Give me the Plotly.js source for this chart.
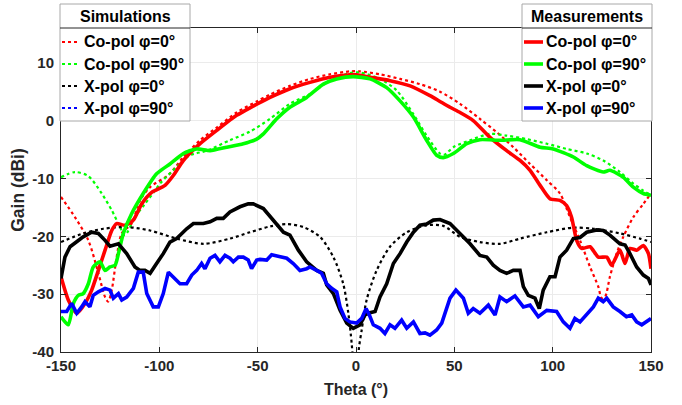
<!DOCTYPE html>
<html><head><meta charset="utf-8">
<script src="https://cdn.plot.ly/plotly-3.0.1.min.js"></script>
<style>html,body{margin:0;padding:0;background:#fff}</style>
</head><body><div id="chart" style="width:682px;height:405px"></div>
<script>
// ---------- data ----------
const thetaSimCo0 = [-150,-142.9,-136.1,-131,-127.6,-126,-124.2,-121.7,-119.1,-114.1,-109.8,-104.7,-95,-87.8,-79.3,-70.8,-60.7,-50.5,-43.7,-33.6,-23.4,-13.2,-3.1,2,12.2,22.4,32.5,42.7,52.9,63,71.5,80,88.5,97,103.7,108.8,113.9,119,123.2,124.9,126.6,129.1,132.5,135.9,141,146.1,150];
const gainSimCo0  = [-13.2,-16.7,-20.7,-26.4,-30.5,-31.3,-29.3,-23.6,-19.5,-17.8,-13.8,-11.5,-9.3,-6.3,-3.4,-1.2,1.4,3.3,4.5,6.0,7.2,8.0,8.5,8.5,8.0,7.2,6.3,5.0,2.9,0.3,-2.0,-4.6,-7.5,-10.3,-12.6,-16.7,-20.7,-25.3,-28.7,-30.7,-30.5,-27,-23,-20.1,-16.7,-14.4,-12.6];

const thetaSimCo90 = [-150,-142.9,-136.1,-129.3,-124.2,-120,-117.5,-112.4,-107.3,-102.2,-99.7,-91.2,-84.4,-75.9,-64.1,-53.9,-43.7,-33.6,-23.4,-13.2,-3.1,2,12.2,20.7,29.2,35.9,42.7,45,49.5,58,68.1,76.6,86.8,97,107.1,117.3,125.7,134.2,141,146.1,150];
const gainSimCo90  = [-9.8,-8.9,-9.6,-12.6,-15.5,-18.4,-19.8,-16.7,-14.4,-12.1,-10.9,-8.0,-6.0,-5.2,-3.4,-1.9,0.3,2.9,4.6,6.9,8.2,8.3,7.2,5.2,1.1,-2.6,-5.7,-5.9,-4.6,-3.4,-2.3,-2.6,-3.2,-4.0,-4.9,-5.7,-6.9,-8.9,-10.9,-12.1,-12.9];

const thetaSimX0 = [-150,-138.7,-128.5,-116.6,-104.7,-91.2,-77.6,-64.1,-53.9,-43.7,-35.2,-26.8,-18.3,-11.5,-6.5,-3.9,-2.2,-1.5,0,1.0,1.5,2.9,5.4,10.5,17.3,25.8,35.9,44.4,52.9,63,73.2,83.4,97,110.5,120.7,134.2,144.4,150];
const gainSimX0  = [-21,-19.5,-18.7,-18.4,-19.0,-20.4,-21.3,-20.4,-19.3,-18.3,-17.9,-18.4,-20.1,-23.6,-28.2,-33.3,-38.5,-42,-60,-42,-39.3,-36.2,-31,-25.9,-21.8,-19.3,-18.1,-18.2,-20.1,-21,-21.3,-20.4,-19.3,-18.5,-18.7,-19.5,-20.4,-21];

const thetaMeasCo0 = [-150,-146.3,-142,-137.8,-134.4,-131,-127.6,-124.2,-121.7,-117.5,-113.2,-109,-103.9,-97.1,-92.9,-87.8,-79.3,-70.8,-60.7,-53.9,-43.7,-33.6,-23.4,-13.2,-3.1,0.3,7.1,17.3,27.5,37.6,42.7,47.8,52.9,59.6,68.1,76.6,83.4,88.5,93.6,98.6,103.7,107.1,109.6,112.2,114.7,119,123.2,127.5,130,134.2,136.8,139.3,142.7,146.1,148.7,150];
const gainMeasCo0  = [-27,-31,-33.3,-31.6,-29.3,-25.9,-22.4,-19,-17.8,-18.1,-17.2,-14.4,-12.4,-11.2,-9.5,-6.9,-4.0,-1.7,0.9,2.2,4.0,5.5,6.6,7.5,7.9,7.9,7.5,6.9,6.0,4.3,3.3,2.3,1.4,0,-2.9,-5.2,-6.9,-8.6,-11.2,-13.5,-13.8,-14.7,-16.7,-20.7,-22.1,-21.8,-23.6,-23.6,-25,-22.4,-24.7,-22.1,-22.4,-21.6,-23,-25.6];

const thetaMeasCo90 = [-150,-146.3,-143.7,-141.2,-138.7,-136.1,-133.6,-130.2,-127.6,-125.1,-122.5,-120.8,-118.3,-114.1,-108.2,-101.4,-94.6,-87.8,-81,-74.2,-65.7,-57.3,-50.5,-47.1,-43.7,-40.3,-33.6,-25.1,-16.6,-9.8,-1.4,7.1,15.6,22.4,29.2,35.9,41,44.4,49.5,56.3,63,73.2,83.4,93.6,100.3,110.5,117.3,125.7,129.1,135.9,141,146.1,150];
const gainMeasCo90  = [-33.9,-35.3,-31.6,-30.2,-29.9,-28.2,-25.3,-24.4,-25.9,-25.3,-25,-23,-19.5,-16.1,-12.6,-9.2,-7.5,-5.7,-4.9,-5.2,-4.6,-4.0,-3.2,-2.3,-1.0,0.3,2.3,4.0,6.3,7.2,7.6,7.2,5.7,3.4,0.6,-3.4,-6.0,-6.4,-5.7,-4.0,-3.3,-3.4,-3.3,-4.6,-4.9,-6.3,-7.8,-8.9,-8.6,-9.8,-11.5,-12.6,-12.9];

const thetaMeasX0 = [-150,-148,-145.4,-142,-138.7,-134.4,-131,-127.6,-125.1,-120.8,-116.6,-112.4,-109.8,-107.3,-104.7,-101.4,-98,-94.6,-91.2,-86.1,-82.7,-77.6,-74.2,-70.8,-67.5,-64.1,-59,-54.8,-52.2,-47.1,-42,-36.9,-33.6,-29.3,-25.1,-20,-16.6,-14.9,-11.5,-8.1,-4.7,-1.4,2,4.6,7.1,9.7,12.2,15.6,19,22.4,25.8,29.2,32.5,35.9,39.3,42.7,47.8,52.9,58,63,66.5,69.8,73.2,76.6,80,83.4,85.1,87.6,91,93.2,95.2,98.6,101.2,103.7,107.1,110.5,113.9,117.3,122.4,125.7,129.1,134.2,136.8,139.3,142.7,146.1,148.7,150];
const gainMeasX0  = [-27.3,-23.6,-21.8,-21,-20.1,-19.3,-19.5,-20.7,-21.7,-21.3,-23,-25.3,-25.9,-25.9,-26.4,-24.7,-23,-21,-20.4,-18.7,-17.8,-17.8,-17.5,-16.9,-16.9,-15.8,-14.9,-14.4,-14.4,-15.2,-17.2,-19.3,-19.8,-22.4,-24.4,-25.9,-26.4,-28.4,-29.9,-32.8,-35,-35.9,-35.3,-33.6,-33.2,-33,-30.5,-28.2,-24.7,-23,-21,-19.3,-18.1,-17.9,-17.2,-17.1,-17.8,-19.5,-21.3,-23.3,-23.6,-25,-25.9,-26.4,-25.9,-25.9,-28.7,-30.2,-30.7,-32.5,-29.3,-27,-27,-23.6,-22.4,-20.4,-20.2,-19.3,-18.9,-19.0,-19.8,-21.3,-21.5,-23,-25.3,-26.7,-27.3,-28.4];

const thetaMeasX90 = [-150,-147.1,-144.6,-142,-139.5,-137.8,-135.3,-133.6,-131,-127.6,-125.1,-123.4,-120.8,-119.1,-116.6,-113.2,-110.7,-108.2,-106.4,-103.1,-100.5,-98,-95.4,-92,-89.5,-86.1,-83.5,-81,-78.5,-76.8,-74.2,-71.7,-69.2,-66.6,-64.1,-62.4,-59.8,-57.3,-54.8,-53.1,-50.5,-48.8,-45.4,-42.9,-38.6,-35.2,-31.9,-28.5,-25.1,-23.4,-20,-17.5,-14.9,-12.4,-9.8,-8.1,-5.6,-3.1,0.3,2.9,5.1,6.8,8.8,12.2,14.7,17.3,19.8,23.2,25.8,29.2,32.5,35.1,37.6,41,43.6,46.1,47.8,50.8,54.6,57.1,59.6,63,67.3,70.7,73.2,76.6,80.8,85.1,88.5,92.7,97,102,105.4,108.8,111.3,113.9,118.1,120.7,123.2,125.7,127.5,130.8,134.2,137.5,140.2,142.7,145.3,147.8,150];
const gainMeasX90  = [-33,-33,-31.6,-33.3,-32.2,-31.3,-32.2,-30.2,-29.6,-29,-29.3,-30.7,-29.9,-31,-30.5,-29,-26.2,-26.2,-29.9,-32.2,-32.2,-29.9,-26.2,-27.3,-28.2,-28.2,-26.7,-25.9,-24.7,-25.6,-23.8,-23.3,-24.4,-23.3,-23.8,-24.4,-23.6,-23.6,-24.1,-25.6,-24.1,-24,-24.1,-23.2,-23.6,-23.8,-24.7,-25.9,-25.6,-25.3,-25.9,-26.4,-28.2,-29,-29.6,-32.2,-34.2,-34.8,-35,-34.2,-32.5,-33.6,-35.3,-35.9,-36.8,-35.3,-35.9,-34.5,-35.9,-34.8,-36.8,-36.7,-37.1,-36.2,-35,-32.2,-30.7,-29.3,-30.7,-33.3,-32.5,-33.3,-31.9,-33.6,-30.5,-31.3,-30.3,-32.2,-31.9,-33.9,-32.8,-33,-34.8,-35.9,-34.2,-34.8,-33.3,-32.2,-30.7,-31.3,-30.7,-32.2,-33,-33.9,-33.6,-34.8,-35.3,-34.8,-34.2];

const simTitle = 'Simulations';
const measTitle = 'Measurements';
const seriesLabels = ['Co-pol φ=0°','Co-pol φ=90°','X-pol φ=0°','X-pol φ=90°'];
const xTicks = [-150,-100,-50,0,50,100,150];
const yTicks = [-40,-30,-20,-10,0,10];

// ---------- styling ----------
const colors = ['#ff0000','#00ff00','#000000','#0000ff'];
const FONT = 'Liberation Sans, Arial, Helvetica, sans-serif';
const W = 682, H = 405, ML = 61, MR = 31, MT = 28, MB = 53;
const PW = W - ML - MR, PH = H - MT - MB;
const px = x => (x - ML) / PW;
const py = y => (H - MB - y) / PH;

function simTrace(x, y, c){
  return {x, y, type:'scatter', mode:'lines', showlegend:false, hoverinfo:'skip',
    line:{color:c, width:2.2, dash:'dot', shape:'spline', smoothing:0.8}};
}
function measTrace(x, y, c, spline){
  return {x, y, type:'scatter', mode:'lines', showlegend:false, hoverinfo:'skip',
    line:{color:c, width:3.6, shape: spline ? 'spline' : 'linear', smoothing:0.6}};
}

const data = [
  simTrace(thetaSimCo0, gainSimCo0, colors[0]),
  simTrace(thetaSimCo90, gainSimCo90, colors[1]),
  simTrace(thetaSimX0, gainSimX0, colors[2]),
  measTrace(thetaMeasCo0, gainMeasCo0, colors[0], true),
  measTrace(thetaMeasCo90, gainMeasCo90, colors[1], true),
  measTrace(thetaMeasX0, gainMeasX0, colors[2], false),
  measTrace(thetaMeasX90, gainMeasX90, colors[3], false)
];

// ---------- manual legends ----------
const shapes = [], annotations = [];
const rowY = [42, 64, 86, 108];
function buildLegend(x0, x1, title, sx0, sx1, tx, dashed){
  shapes.push({type:'rect', xref:'paper', yref:'paper', x0:px(x0), x1:px(x1), y0:py(121), y1:py(4),
    fillcolor:'#ffffff', line:{color:'#a8a8a8', width:1}, layer:'above'});
  shapes.push({type:'line', xref:'paper', yref:'paper', x0:px(x0), x1:px(x1), y0:py(28), y1:py(28),
    line:{color:'#262626', width:1}, layer:'above'});
  annotations.push({xref:'paper', yref:'paper', x:px((x0+x1)/2), y:py(16.5), xanchor:'center', yanchor:'middle',
    text:title, showarrow:false, font:{family:FONT, size:16, weight:'bold', color:'#000'}});
  seriesLabels.forEach((lab, i) => {
    shapes.push({type:'line', xref:'paper', yref:'paper', x0:px(sx0), x1:px(sx1), y0:py(rowY[i]), y1:py(rowY[i]),
      line:{color:colors[i], width: dashed ? 2.2 : 3.6, dash: dashed ? 'dot' : 'solid'}, layer:'above'});
    annotations.push({xref:'paper', yref:'paper', x:px(tx), y:py(rowY[i]), xanchor:'left', yanchor:'middle',
      text:lab, showarrow:false, font:{family:FONT, size:16, weight:'bold', color:'#000'}});
  });
}
buildLegend(60, 190, simTitle, 62, 79, 82, true);
buildLegend(522, 652, measTitle, 524, 543, 544, false);

const tickFont = {family:FONT, size:15, weight:'bold', color:'#262626'};
const layout = {
  width:W, height:H,
  margin:{l:ML, r:MR, t:MT, b:MB, pad:0},
  paper_bgcolor:'#ffffff', plot_bgcolor:'#ffffff',
  showlegend:false,
  font:{family:FONT},
  xaxis:{range:[-150,150], tickmode:'array', tickvals:xTicks, ticktext:xTicks.map(String),
    showline:true, linecolor:'#262626', linewidth:1, mirror:'ticks',
    ticks:'inside', ticklen:5, tickcolor:'#262626', tickwidth:1,
    showgrid:true, gridcolor:'#ebebeb', gridwidth:1, zeroline:false,
    tickfont:tickFont, ticklabelstandoff:0,
    title:{text:'Theta (°)', font:{family:FONT, size:16, weight:'bold', color:'#262626'}, standoff:10}},
  yaxis:{range:[-40,16], tickmode:'array', tickvals:yTicks, ticktext:yTicks.map(String),
    showline:true, linecolor:'#262626', linewidth:1, mirror:'ticks',
    ticks:'inside', ticklen:5, tickcolor:'#262626', tickwidth:1,
    showgrid:true, gridcolor:'#ebebeb', gridwidth:1, zeroline:false,
    tickfont:tickFont, ticklabelstandoff:3,
    title:{text:'Gain (dBi)', font:{family:FONT, size:17.5, weight:'bold', color:'#262626'}, standoff:3}},
  shapes, annotations
};

Plotly.newPlot('chart', data, layout, {staticPlot:true, displayModeBar:false});
</script></body></html>
